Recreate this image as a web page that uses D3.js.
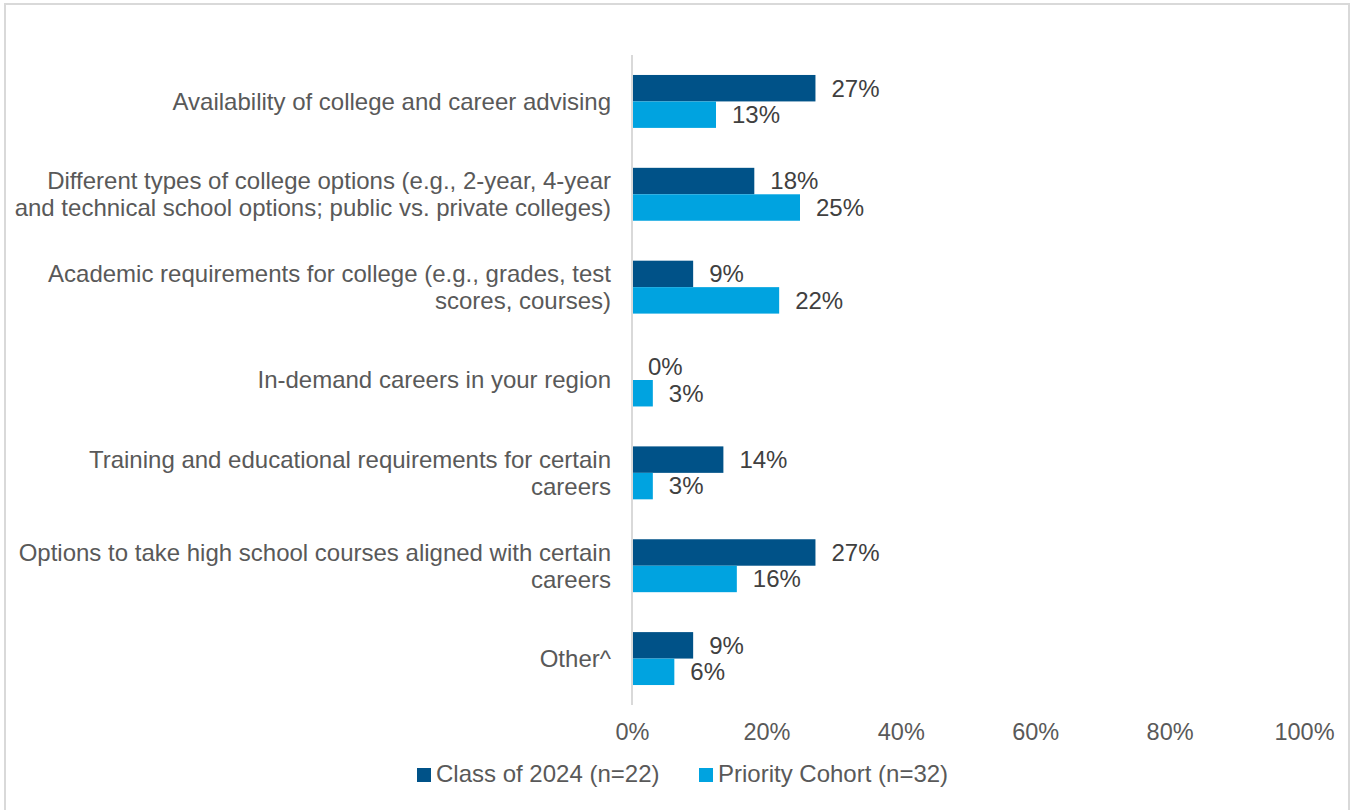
<!DOCTYPE html>
<html><head><meta charset="utf-8">
<script src="https://cdn.jsdelivr.net/npm/d3@7"></script>
<style>body{margin:0;background:#fff;}svg{display:block;font-family:"Liberation Sans",Arial,sans-serif;}</style>
</head><body>
<svg id="chart" width="1353" height="810"></svg>
<script>
const categories = [
  "Availability of college and career advising",
  "Different types of college options (e.g., 2-year, 4-year\nand technical school options; public vs. private colleges)",
  "Academic requirements for college (e.g., grades, test\nscores, courses)",
  "In-demand careers in your region",
  "Training and educational requirements for certain\ncareers",
  "Options to take high school courses aligned with certain\ncareers",
  "Other^"
];
const seriesNames = ["Class of 2024 (n=22)", "Priority Cohort (n=32)"];
const class2024 = [27.3, 18.2, 9.1, 0, 13.6, 27.3, 9.1];
const priorityCohort = [12.5, 25.0, 21.9, 3.1, 3.1, 15.6, 6.3];
const xTicks = [0, 20, 40, 60, 80, 100];
const colors = ["#005288", "#00A3E0"];

const svg = d3.select("#chart");
// outer border
svg.append("rect").attr("x",5).attr("y",4).attr("width",1344).attr("height",820)
  .attr("fill","none").attr("stroke","#d9d9d9").attr("stroke-width",2);

const x = d3.scaleLinear().domain([0,100]).range([632,1304]);
const y = d3.scaleBand().domain(categories).range([55,705]).paddingInner(0.43).paddingOuter(0.215);
const ySub = d3.scaleBand().domain([0,1]).range([0,y.bandwidth()]);

// category labels
const catG = svg.append("g");
categories.forEach(c => {
  const lines = c.split("\n");
  const cy = y(c) + y.bandwidth()/2;
  const lh = 27;
  const t = catG.append("text").attr("text-anchor","end").attr("fill","#595959").attr("font-size",24);
  lines.forEach((ln,i) => {
    t.append("tspan").attr("x",611).attr("y", cy + (i - (lines.length-1)/2)*lh).attr("dy","0.35em").text(ln);
  });
});

const series = [class2024, priorityCohort];
series.forEach((vals, si) => {
  const g = svg.append("g");
  g.selectAll("rect").data(vals).join("rect")
    .attr("x", x(0)+1)
    .attr("y", (d,i) => y(categories[i]) + ySub(si))
    .attr("width", d => Math.max(0, x(d)-x(0)-1))
    .attr("height", ySub.bandwidth())
    .attr("fill", colors[si]);
  g.selectAll("text").data(vals).join("text")
    .attr("x", d => x(d) + 16)
    .attr("y", (d,i) => y(categories[i]) + ySub(si) + ySub.bandwidth()/2)
    .attr("dy","0.35em")
    .attr("font-size",24).attr("fill","#404040")
    .text(d => Math.round(d) + "%");
});

// axis line
svg.append("line").attr("x1",632).attr("x2",632).attr("y1",55).attr("y2",705)
  .attr("stroke","#d9d9d9").attr("stroke-width",2);

// x tick labels
const xa = svg.append("g").attr("transform","translate(0,705)")
  .call(d3.axisBottom(x).tickValues(xTicks).tickFormat(d => d + "%").tickSize(0).tickPadding(18));
xa.select(".domain").remove();
xa.selectAll("text").attr("font-size",23.5).attr("fill","#595959").attr("font-family","Liberation Sans, Arial, sans-serif");

// legend
const leg = svg.append("g");
const legX = [417, 699];
seriesNames.forEach((n,i) => {
  leg.append("rect").attr("x",legX[i]).attr("y",768).attr("width",14).attr("height",14).attr("fill",colors[i]);
  leg.append("text").attr("x",legX[i]+19).attr("y",774).attr("dy","0.35em")
    .attr("font-size",24).attr("fill","#595959").text(n);
});
</script>
</body></html>
